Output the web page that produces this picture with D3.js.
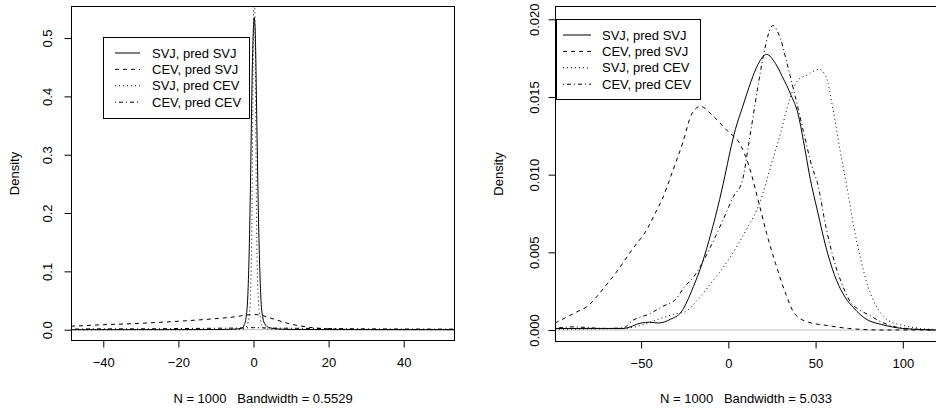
<!DOCTYPE html>
<html>
<head>
<meta charset="utf-8">
<script src="https://cdn.jsdelivr.net/npm/d3@7/dist/d3.min.js"></script>
<style>
  body { margin: 0; background: #fff; }
  svg { display: block; font-family: "Liberation Sans", Arial, sans-serif; }
</style>
</head>
<body>
<script>
// two density panels, R style

var width = 936;
var height = 409;
var fontSize = 13;

var legendLabels = ["SVJ, pred SVJ", "CEV, pred SVJ", "SVJ, pred CEV", "CEV, pred CEV"];
var lineDashes = [null, "4,4", "1,3", "1,3,4,3"];

// left panel (bandwidth 0.5529)
var leftXTicks = [-40, -20, 0, 20, 40];
var leftYTicks = [0, 0.1, 0.2, 0.3, 0.4, 0.5];
var leftSub = "N = 1000   Bandwidth = 0.5529";

var leftSvjSvj = [[-48.6, 0], [-20, 0.0001], [-10, 0.0003], [-5, 0.001], [-3, 0.003], [-2.5, 0.008],
  [-2, 0.02], [-1.5, 0.06], [-1.2, 0.12], [-0.8, 0.25], [-0.4, 0.42], [0, 0.52], [0.2, 0.535],
  [0.5, 0.5], [0.9, 0.35], [1.3, 0.2], [1.6, 0.12], [2, 0.05], [2.5, 0.02], [3, 0.01], [4, 0.004],
  [6, 0.0015], [10, 0.0005], [20, 0.0002], [53.66, 0]];
var leftCevSvj = [[-48.6, 0.006], [-40, 0.0085], [-30, 0.011], [-20, 0.0145], [-10, 0.019], [-5, 0.022],
  [-2, 0.025], [0, 0.026], [2, 0.025], [4, 0.021], [6, 0.017], [8, 0.013], [10, 0.0095], [12, 0.007],
  [15, 0.004], [18, 0.0022], [22, 0.001], [30, 0.0004], [53.66, 0.0002]];
var leftSvjCev = [[-48.6, 0], [-10, 0.0002], [-3, 0.001], [-2, 0.004], [-1.2, 0.02], [-0.8, 0.06],
  [-0.4, 0.2], [-0.1, 0.45], [0.2, 0.62], [0.5, 0.45], [0.8, 0.2], [1.2, 0.06], [1.8, 0.02],
  [2.6, 0.004], [4, 0.001], [10, 0.0002], [53.66, 0]];
var leftCevCev = [[-48.6, 0.001], [-40, 0.0015], [-30, 0.0015], [-20, 0.002], [-10, 0.0025], [-3, 0.003],
  [0, 0.0035], [3, 0.003], [10, 0.0025], [20, 0.002], [30, 0.0015], [40, 0.0012], [53.66, 0.001]];

// right panel (bandwidth 5.033)
var rightXTicks = [-50, 0, 50, 100];
var rightYTicks = [0, 0.005, 0.01, 0.015, 0.02];
var rightSub = "N = 1000   Bandwidth = 5.033";

var rightSvjSvj = [[-99.4, 0.0001], [-70, 0.0001], [-60, 0.0001], [-50, 0.00045], [-45, 0.0005],
  [-40, 0.00045], [-33, 0.0007], [-27, 0.00116], [-20, 0.0028], [-15, 0.0043], [-10, 0.0062],
  [-5, 0.0084], [-2, 0.0099], [1, 0.0115], [4, 0.0129], [8, 0.0143], [13, 0.016], [17, 0.0171],
  [22, 0.01774], [27, 0.01716], [31, 0.0163], [36, 0.0151], [40, 0.0139], [43, 0.0122], [47, 0.0097],
  [51, 0.0077], [57, 0.0049], [62, 0.0032], [67, 0.0021], [72, 0.0014], [79, 0.0007], [88, 0.00035],
  [100, 0.0001], [119, 0]];
var rightCevSvj = [[-99.4, 0.00045], [-88, 0.0011], [-80, 0.0016], [-75, 0.0022], [-70, 0.0029],
  [-65, 0.0036], [-55, 0.0052], [-46, 0.0066], [-42, 0.0075], [-38, 0.0084], [-32, 0.0102],
  [-26, 0.0121], [-21, 0.0139], [-16, 0.0144], [-9, 0.0138], [0, 0.01276], [6, 0.0121], [12, 0.0105],
  [17, 0.0084], [22, 0.0062], [27, 0.0043], [33, 0.0023], [38, 0.00105], [46, 0.0005], [56, 0.0003],
  [69, 0.0001], [88, 0], [119, 0]];
var rightSvjCev = [[-99.4, 0.00005], [-60, 0.0001], [-50, 0.0003], [-40, 0.0007], [-30, 0.00105],
  [-25, 0.00116], [-18, 0.0019], [-10, 0.003], [0, 0.0045], [10, 0.0064], [18, 0.0082], [25, 0.0108],
  [30, 0.0127], [35, 0.0148], [40, 0.0161], [45, 0.0164], [52, 0.01678], [56, 0.0163], [60, 0.0142],
  [64, 0.0116], [68, 0.0092], [72, 0.0066], [76, 0.0045], [80, 0.0028], [85, 0.0015], [92, 0.0006],
  [100, 0.0003], [110, 0.0001], [119, 0.00003]];
var rightCevCev = [[-99.4, 0.0001], [-90, 0.0002], [-70, 0.0001], [-60, 0.00015], [-55, 0.0006],
  [-45, 0.00105], [-38, 0.0015], [-30, 0.002], [-25, 0.0028], [-20, 0.0034], [-15, 0.0043],
  [-10, 0.0054], [-3, 0.0071], [3, 0.0086], [8, 0.0096], [12, 0.0122], [17, 0.0157], [20, 0.0176],
  [25.5, 0.0196], [30, 0.0187], [34, 0.017], [38, 0.0152], [43, 0.0128], [48, 0.0105], [51, 0.0095],
  [56, 0.0066], [60, 0.0047], [65, 0.003], [70, 0.0018], [75, 0.0013], [80, 0.001], [88, 0.0005],
  [100, 0.00012], [119, 0]];

var svg = d3.select("body")
  .append("svg")
    .attr("width", width)
    .attr("height", height);

var drawPanel = function(p) {
  var x = d3.scaleLinear().domain(p.xDomain).range([p.left, p.right]);
  var y = d3.scaleLinear().domain(p.yDomain).range([p.bottom, p.top]);

  var g = svg.append("g");

  g.append("clipPath")
      .attr("id", p.id + "clip")
    .append("rect")
      .attr("x", p.left)
      .attr("y", p.top)
      .attr("width", p.right - p.left)
      .attr("height", p.bottom - p.top);

  var plot = g.append("g").attr("clip-path", "url(#" + p.id + "clip)");

  // zero line
  plot.append("line")
    .attr("x1", p.left).attr("x2", p.right)
    .attr("y1", y(0)).attr("y2", y(0))
    .attr("stroke", "#bebebe");

  var line = d3.line()
    .x(function(d) { return x(d[0]); })
    .y(function(d) { return y(d[1]); })
    .curve(d3.curveMonotoneX);

  p.series.forEach(function(s, i) {
    plot.append("path")
      .attr("d", line(s))
      .attr("fill", "none")
      .attr("stroke", "#000")
      .attr("stroke-width", 1)
      .attr("stroke-dasharray", lineDashes[i]);
  });

  // box
  g.append("rect")
    .attr("x", p.left + 0.5)
    .attr("y", p.top + 0.5)
    .attr("width", p.right - p.left - 1)
    .attr("height", p.bottom - p.top - 1)
    .attr("fill", "none")
    .attr("stroke", "#000");

  // x axis
  var xAxis = g.append("g")
    .attr("transform", "translate(0," + (p.bottom - 0.5) + ")")
    .call(d3.axisBottom(x).tickValues(p.xTicks).tickSize(7).tickPadding(10)
      .tickFormat(function(d) { return d < 0 ? "\u2212" + Math.abs(d) : d; }));
  xAxis.select(".domain")
    .attr("d", "M" + x(p.xTicks[0]) + ",0H" + x(p.xTicks[p.xTicks.length - 1]));

  // y axis, labels turned like R
  var yAxis = g.append("g")
    .attr("transform", "translate(" + (p.left + 0.5) + ",0)")
    .call(d3.axisLeft(y).tickValues(p.yTicks).tickSize(7).tickFormat(d3.format(p.yFormat)));
  yAxis.select(".domain")
    .attr("d", "M0," + y(p.yTicks[0]) + "V" + y(p.yTicks[p.yTicks.length - 1]));
  yAxis.selectAll(".tick text")
    .attr("x", 0)
    .attr("dy", null)
    .attr("text-anchor", "middle")
    .attr("transform", "translate(" + (p.left - p.yLabelX) * -1 + ",0) rotate(-90)")
    .attr("y", 0);

  g.selectAll(".tick text")
    .attr("font-size", fontSize)
    .attr("font-family", "Liberation Sans, Arial, sans-serif");

  g.append("text")
    .attr("transform", "translate(" + p.densityX + "," + ((p.top + p.bottom) / 2) + ") rotate(-90)")
    .attr("text-anchor", "middle")
    .attr("font-size", fontSize)
    .text("Density");

  g.append("text")
    .attr("x", (p.left + p.right) / 2)
    .attr("y", 403)
    .attr("text-anchor", "middle")
    .attr("font-size", fontSize)
    .style("white-space", "pre")
    .text(p.sub);

  // legend
  var lg = g.append("g");
  lg.append("rect")
    .attr("x", p.legend.x + 0.5)
    .attr("y", p.legend.y + 0.5)
    .attr("width", p.legend.w)
    .attr("height", p.legend.h)
    .attr("fill", "#fff")
    .attr("stroke", "#000");

  legendLabels.forEach(function(label, i) {
    var ly = p.legend.y + 16 + i * 16.4;
    lg.append("line")
      .attr("x1", p.legend.x1).attr("x2", p.legend.x2)
      .attr("y1", ly).attr("y2", ly)
      .attr("stroke", "#000")
      .attr("stroke-dasharray", lineDashes[i]);
    lg.append("text")
      .attr("x", p.legend.tx)
      .attr("y", ly + 4.5)
      .attr("font-size", fontSize)
      .text(label);
  });
};

drawPanel({
  id: "left",
  left: 71, right: 455, top: 6, bottom: 341,
  xDomain: [-48.6, 53.66], yDomain: [-0.01937, 0.5549],
  xTicks: leftXTicks, yTicks: leftYTicks, yFormat: ".1f",
  yLabelX: 51, densityX: 19,
  series: [leftSvjSvj, leftCevSvj, leftSvjCev, leftCevCev],
  sub: leftSub,
  legend: { x: 103, y: 37, w: 146, h: 81, x1: 115, x2: 140, tx: 152 }
});

drawPanel({
  id: "right",
  left: 555, right: 937, top: 6, bottom: 342,
  xDomain: [-99.35, 119.6], yDomain: [-0.000773, 0.020857],
  xTicks: rightXTicks, yTicks: rightYTicks, yFormat: ".3f",
  yLabelX: 538, densityX: 503,
  series: [rightSvjSvj, rightCevSvj, rightSvjCev, rightCevCev],
  sub: rightSub,
  legend: { x: 556, y: 19, w: 144, h: 80, x1: 563, x2: 591, tx: 602 }
});
</script>
</body>
</html>
